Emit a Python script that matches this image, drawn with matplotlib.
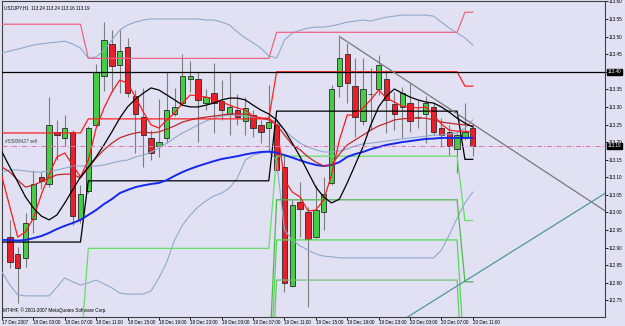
import numpy as np
import matplotlib.pyplot as plt
import matplotlib.transforms as mtransforms

plt.rcParams['font.family'] = ['Liberation Sans', 'DejaVu Sans']

# ---- data (USDJPY H1, bars 18 Dec 00:00 .. 20 Dec 11:00) ----
opens = [112.931, 112.881, 112.871, 112.981, 113.102, 113.081, 113.230, 113.212, 113.230, 112.981,
         113.061, 113.249, 113.388, 113.479, 113.419, 113.469, 113.331, 113.270, 113.211, 113.190,
         113.211, 113.280, 113.310, 113.378, 113.378, 113.310, 113.339, 113.317, 113.280, 113.291,
         113.261, 113.278, 113.249, 113.239, 113.249, 113.130, 112.792, 113.030, 113.001, 112.931,
         113.000, 113.083, 113.359, 113.449, 113.359, 113.260, 113.338, 113.350, 113.378, 113.308,
         113.299, 113.311, 113.271, 113.280, 113.299, 113.240, 113.230, 113.179, 113.213, 113.240]
highs = [112.979, 112.902, 112.999, 113.121, 113.115, 113.328, 113.263, 113.277, 113.234, 113.078,
         113.246, 113.422, 113.541, 113.518, 113.518, 113.496, 113.348, 113.354, 113.234, 113.322,
         113.399, 113.354, 113.450, 113.430, 113.399, 113.351, 113.425, 113.376, 113.399, 113.337,
         113.328, 113.291, 113.263, 113.362, 113.263, 113.163, 113.036, 113.087, 113.016, 113.078,
         113.101, 113.362, 113.499, 113.482, 113.439, 113.439, 113.410, 113.447, 113.405, 113.342,
         113.356, 113.371, 113.320, 113.331, 113.311, 113.268, 113.249, 113.226, 113.311, 113.255]
lows = [112.842, 112.743, 112.845, 112.942, 113.067, 113.072, 113.150, 113.189, 112.964, 112.970,
        113.055, 113.243, 113.345, 113.342, 113.340, 113.328, 113.169, 113.130, 113.149, 113.158,
        113.197, 113.274, 113.303, 113.342, 113.200, 113.291, 113.226, 113.263, 113.220, 113.249,
        113.220, 113.214, 113.197, 113.175, 113.115, 112.774, 112.788, 112.930, 112.732, 112.927,
        112.950, 113.078, 113.328, 113.311, 113.214, 113.249, 113.234, 113.334, 113.226, 113.234,
        113.212, 113.229, 113.240, 113.197, 113.220, 113.185, 113.163, 113.112, 113.206, 113.160]
closes = [112.860, 112.841, 112.970, 113.081, 113.089, 113.249, 113.220, 113.240, 112.991, 113.053,
          113.239, 113.400, 113.490, 113.416, 113.459, 113.340, 113.280, 113.219, 113.170, 113.200,
          113.291, 113.299, 113.388, 113.389, 113.320, 113.329, 113.310, 113.291, 113.299, 113.270,
          113.297, 113.239, 113.230, 113.258, 113.121, 112.801, 113.020, 113.010, 112.924, 113.007,
          113.052, 113.350, 113.439, 113.369, 113.270, 113.350, 113.338, 113.419, 113.320, 113.280,
          113.339, 113.261, 113.271, 113.310, 113.230, 113.220, 113.189, 113.220, 113.230, 113.190]

# indicator lines, bars -1 .. 59
fast_ma = [113.101, 113.016, 112.930, 112.945, 112.984, 113.050, 113.107, 113.158, 113.169, 113.135,
           113.101, 113.149, 113.240, 113.297, 113.342, 113.376, 113.368, 113.328, 113.286, 113.249,
           113.240, 113.263, 113.283, 113.311, 113.334, 113.331, 113.328, 113.322, 113.314, 113.305,
           113.297, 113.291, 113.274, 113.268, 113.268, 113.249, 113.092, 113.058, 113.044, 113.004,
           113.007, 113.036, 113.107, 113.206, 113.277, 113.277, 113.297, 113.320, 113.348, 113.325,
           113.314, 113.302, 113.300, 113.297, 113.300, 113.277, 113.251, 113.234, 113.231, 113.231,
           113.229]
slow_ma = [113.129, 113.115, 113.092, 113.072, 113.078, 113.087, 113.098, 113.107, 113.109, 113.109,
           113.098, 113.126, 113.155, 113.178, 113.197, 113.212, 113.220, 113.226, 113.229, 113.226,
           113.229, 113.237, 113.246, 113.257, 113.263, 113.268, 113.271, 113.274, 113.277, 113.280,
           113.280, 113.280, 113.274, 113.268, 113.263, 113.249, 113.220, 113.192, 113.178, 113.158,
           113.143, 113.132, 113.135, 113.166, 113.192, 113.206, 113.220, 113.234, 113.246, 113.254,
           113.263, 113.266, 113.268, 113.268, 113.268, 113.263, 113.257, 113.254, 113.251, 113.249,
           113.246]
smooth_ma = [113.172, 113.129, 113.087, 113.044, 113.013, 112.990, 112.979, 112.993, 113.027, 113.064,
             113.101, 113.129, 113.158, 113.192, 113.229, 113.268, 113.300, 113.322, 113.339, 113.354,
             113.348, 113.334, 113.320, 113.305, 113.300, 113.300, 113.305, 113.311, 113.320, 113.325,
             113.325, 113.320, 113.305, 113.291, 113.280, 113.263, 113.234, 113.197, 113.158, 113.115,
             113.072, 113.044, 113.027, 113.038, 113.084, 113.135, 113.186, 113.249, 113.300, 113.331,
             113.351, 113.339, 113.328, 113.320, 113.314, 113.311, 113.300, 113.285, 113.268, 113.254,
             113.243]
blue_ma = [112.922, 112.922, 112.920, 112.922, 112.927, 112.933, 112.942, 112.953, 112.962, 112.970,
           112.979, 112.993, 113.007, 113.024, 113.038, 113.055, 113.064, 113.072, 113.077, 113.081,
           113.084, 113.092, 113.104, 113.115, 113.124, 113.132, 113.139, 113.146, 113.152, 113.156,
           113.160, 113.165, 113.169, 113.172, 113.173, 113.170, 113.163, 113.156, 113.148, 113.141,
           113.135, 113.132, 113.135, 113.143, 113.158, 113.166, 113.172, 113.180, 113.186, 113.192,
           113.196, 113.200, 113.203, 113.206, 113.209, 113.210, 113.212, 113.212, 113.212, 113.212,
           113.212]
bb_upper = [113.453, 113.459, 113.464, 113.470, 113.476, 113.479, 113.482, 113.484, 113.487, 113.479,
            113.467, 113.439, 113.442, 113.462, 113.490, 113.518, 113.533, 113.541, 113.547, 113.550,
            113.550, 113.550, 113.550, 113.550, 113.550, 113.550, 113.547, 113.547, 113.541, 113.533,
            113.513, 113.496, 113.482, 113.467, 113.445, 113.439, 113.490, 113.510, 113.518, 113.524,
            113.527, 113.527, 113.530, 113.535, 113.541, 113.544, 113.547, 113.544, 113.550, 113.555,
            113.558, 113.561, 113.561, 113.561, 113.561, 113.558, 113.541, 113.524, 113.510, 113.496,
            113.476]
bb_mid = [113.115, 113.121, 113.121, 113.118, 113.115, 113.115, 113.118, 113.121, 113.126, 113.132,
          113.132, 113.132, 113.132, 113.135, 113.141, 113.146, 113.149, 113.158, 113.163, 113.172,
          113.183, 113.197, 113.212, 113.226, 113.237, 113.249, 113.260, 113.268, 113.274, 113.277,
          113.277, 113.274, 113.271, 113.268, 113.266, 113.257, 113.234, 113.214, 113.197, 113.186,
          113.178, 113.172, 113.172, 113.175, 113.180, 113.189, 113.195, 113.197, 113.200, 113.203,
          113.206, 113.209, 113.212, 113.214, 113.217, 113.220, 113.220, 113.223, 113.226, 113.240,
          113.263]
bb_lower = [112.831, 112.794, 112.766, 112.763, 112.763, 112.763, 112.763, 112.788, 112.814, 112.803,
            112.794, 112.800, 112.808, 112.797, 112.786, 112.771, 112.768, 112.768, 112.768, 112.777,
            112.814, 112.859, 112.922, 112.964, 112.993, 113.016, 113.033, 113.047, 113.055, 113.070,
            113.098, 113.149, 113.163, 113.169, 113.172, 113.149, 112.950, 112.922, 112.905, 112.893,
            112.882, 112.876, 112.874, 112.871, 112.871, 112.871, 112.871, 112.871, 112.871, 112.871,
            112.871, 112.871, 112.871, 112.871, 112.871, 112.871, 112.893, 112.936, 112.984, 113.027,
            113.058]

# daily levels: (value for bars -1..9, 10..33, 34..57, 58..59)
pink_lvl = [113.535, 113.438, 113.512, 113.569]
red_lvl = [113.226, 113.266, 113.400, 113.359]
black_lvl = [112.916, 113.090, 113.288, 113.151]
green1_lvl = [112.600, 112.898, 113.160, 112.977]
green2_lvl = [112.500, 112.550, 113.036, 112.803]
green3_lvl = [112.450, 112.450, 112.922, 112.560]
green4_lvl = [112.350, 112.350, 112.808, 112.400]
seg_len = [11, 24, 24, 2]

trend_gray_x = [42, 75.9]
trend_gray_y = [113.500, 113.004]
trend_teal_x = [48.9, 75.9]
trend_teal_y = [112.678, 113.055]

hline_price = 113.40
order_price = 113.19
order_label = "#53008427 sell"
header = "USDJPY,H1  113.24 113.24 113.16 113.19"
copyright_txt = "MT4HF, \u00a9 2001-2007 MetaQuotes Software Corp."

tick_bars = [-1, 3, 7, 11, 15, 19, 23, 27, 31, 35, 39, 43, 47, 51, 55, 59]
tick_labels = ["17 Dec 2007", "18 Dec 03:00", "18 Dec 07:00", "18 Dec 11:00", "18 Dec 15:00",
               "18 Dec 19:00", "18 Dec 23:00", "19 Dec 03:00", "19 Dec 07:00", "19 Dec 11:00",
               "19 Dec 15:00", "19 Dec 19:00", "19 Dec 23:00", "20 Dec 03:00", "20 Dec 07:00",
               "20 Dec 11:00"]


def steps(levels):
    return np.repeat(levels, seg_len)


bg = "#e1e1f3"
fs = 3.3
fig = plt.figure(figsize=(6.25, 3.26), dpi=100, facecolor=bg)
ax = fig.add_axes([2 / 625, 9 / 326, 603 / 625, 316 / 326], facecolor=bg)

xb = np.arange(len(opens))
xl = np.arange(-1, 60)

o = np.array(opens)
c = np.array(closes)
up = c > o
dn = c < o
flat = c == o

# candles
ax.vlines(xb, lows, highs, color="#7c7c7c", lw=0.8, zorder=2)
ax.bar(xb[up], (c - o)[up], bottom=o[up], width=0.68, color="#46cc46",
       edgecolor="#2a2a2a", lw=0.6, zorder=3)
ax.bar(xb[dn], (c - o)[dn], bottom=o[dn], width=0.68, color="#e8202c",
       edgecolor="#2a2a2a", lw=0.6, zorder=3)
ax.hlines(o[flat], xb[flat] - 0.34, xb[flat] + 0.34, color="#606060", lw=0.8, zorder=3)

# bands
for band in (bb_upper, bb_mid, bb_lower):
    ax.plot(xl, band, color="#8eaacb", lw=0.8, zorder=4)

# daily level steps
ax.plot(xl, steps(green4_lvl), color="#78bf78", lw=0.9, zorder=4)
ax.plot(xl, steps(green3_lvl), color="#4fdc4f", lw=0.9, zorder=4)
ax.plot(xl, steps(green2_lvl), color="#52b552", lw=0.9, zorder=4)
ax.plot(xl, steps(green1_lvl), color="#66dd66", lw=0.9, zorder=4)
ax.plot(xl, steps(pink_lvl), color="#f06484", lw=0.9, zorder=4)
ax.plot(xl, steps(black_lvl), color="black", lw=0.9, zorder=4)
ax.plot(xl, steps(red_lvl), color="#ff2020", lw=0.9, zorder=4)

# moving averages
ax.plot(xl, blue_ma, color="#1428ee", lw=1.4, zorder=5)
ax.plot(xl, slow_ma, color="#c02828", lw=0.9, zorder=5)
ax.plot(xl, fast_ma, color="#ff1a1a", lw=0.9, zorder=5)
ax.plot(xl, smooth_ma, color="black", lw=0.9, zorder=5)

# objects
ax.axhline(hline_price, color="black", lw=0.9, zorder=6)
ax.axhline(order_price, color="#e070a8", lw=0.7, ls=(0, (5, 2, 1, 2)), zorder=6)
ax.plot(trend_gray_x, trend_gray_y, color="#787878", lw=0.9, zorder=6)
ax.plot(trend_teal_x, trend_teal_y, color="#4f9898", lw=0.9, zorder=6)

ax.text(-0.6, order_price + 0.004, order_label, fontsize=fs, color="#404040",
        va="bottom", ha="left", style="italic", zorder=7)
ax.text(0.004, 0.985, header, transform=ax.transAxes, fontsize=fs, color="black",
        va="top", ha="left")
ax.text(0.002, 0.012, copyright_txt, transform=ax.transAxes, fontsize=fs, color="black",
        va="bottom", ha="left")

ax.set_xlim(-0.865, 75.85)
ax.set_ylim(112.703, 113.601)

# price axis on the right
yt = np.round(np.arange(112.75, 113.601, 0.05), 2)
ax.yaxis.tick_right()
ax.set_yticks(yt)
ax.set_yticklabels(["%.2f" % v for v in yt])
ax.tick_params(axis="y", labelsize=fs, length=2, width=0.6, pad=1, colors="black")

ax.set_xticks(tick_bars)
ax.set_xticklabels(tick_labels, ha="left")
ax.tick_params(axis="x", labelsize=fs, length=2, width=0.6, pad=0.5)

trans = mtransforms.blended_transform_factory(ax.transAxes, ax.transData)
for val in (hline_price, order_price):
    ax.text(1.005, val, "%.2f" % val, transform=trans, fontsize=fs, color="white",
            va="center", ha="left", zorder=10, clip_on=False,
            bbox=dict(boxstyle="square,pad=0.12", fc="black", ec="black"))

for s in ax.spines.values():
    s.set_color("#404040")
    s.set_linewidth(0.8)

fig.savefig("out.png", dpi=100, facecolor=bg)
